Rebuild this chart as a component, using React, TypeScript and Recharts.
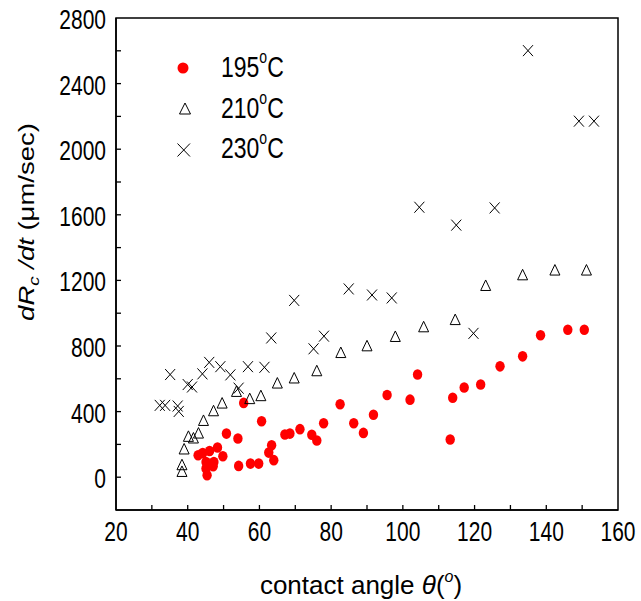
import React from 'react';
import { ScatterChart, Scatter, XAxis, YAxis, ReferenceArea, Legend } from 'recharts';

// dR/dt vs contact angle
const red195 = [
  { x: 42.9, y: 134 }, { x: 44.2, y: 148 }, { x: 46.1, y: 160 }, { x: 48.3, y: 181 },
  { x: 49.8, y: 128 }, { x: 45.1, y: 93 }, { x: 47.3, y: 93 }, { x: 47.1, y: 67 },
  { x: 45.1, y: 53 }, { x: 45.4, y: 12 }, { x: 50.8, y: 266 }, { x: 54.0, y: 236 },
  { x: 54.2, y: 69 }, { x: 57.5, y: 83 }, { x: 59.8, y: 83 }, { x: 55.6, y: 453 },
  { x: 60.6, y: 341 }, { x: 63.4, y: 195 }, { x: 62.6, y: 150 }, { x: 64.0, y: 104 },
  { x: 67.1, y: 260 }, { x: 68.5, y: 266 }, { x: 71.3, y: 293 }, { x: 74.6, y: 259 },
  { x: 76.0, y: 224 }, { x: 77.9, y: 329 }, { x: 82.5, y: 445 }, { x: 86.3, y: 329 },
  { x: 89.0, y: 270 }, { x: 91.8, y: 381 }, { x: 95.6, y: 501 }, { x: 102.0, y: 473 },
  { x: 104.1, y: 626 }, { x: 113.2, y: 230 }, { x: 113.9, y: 484 }, { x: 117.1, y: 547 },
  { x: 121.7, y: 565 }, { x: 127.1, y: 676 }, { x: 133.4, y: 737 }, { x: 138.4, y: 866 },
  { x: 146.0, y: 899 }, { x: 150.6, y: 899 },
];

const tri210 = [
  { x: 38.4, y: 32 }, { x: 38.4, y: 73 }, { x: 39.0, y: 169 }, { x: 40.2, y: 246 },
  { x: 41.6, y: 236 }, { x: 43.0, y: 266 }, { x: 44.4, y: 343 }, { x: 47.2, y: 402 },
  { x: 49.6, y: 449 }, { x: 53.6, y: 520 }, { x: 57.3, y: 476 }, { x: 60.4, y: 494 },
  { x: 65.0, y: 571 }, { x: 69.7, y: 602 }, { x: 76.0, y: 646 }, { x: 82.7, y: 757 },
  { x: 90.0, y: 798 }, { x: 97.9, y: 855 }, { x: 105.8, y: 914 }, { x: 114.6, y: 958 },
  { x: 123.1, y: 1166 }, { x: 133.4, y: 1231 }, { x: 142.4, y: 1260 }, { x: 151.2, y: 1260 },
];

const cross230 = [
  { x: 32.2, y: 438 }, { x: 33.7, y: 438 }, { x: 37.2, y: 434 }, { x: 37.5, y: 401 },
  { x: 35.1, y: 626 }, { x: 40.0, y: 565 }, { x: 41.2, y: 550 }, { x: 44.1, y: 630 },
  { x: 46.0, y: 700 }, { x: 49.1, y: 674 }, { x: 51.9, y: 624 }, { x: 54.2, y: 543 },
  { x: 56.8, y: 674 }, { x: 61.4, y: 670 }, { x: 63.3, y: 849 }, { x: 69.7, y: 1078 },
  { x: 75.1, y: 783 }, { x: 78.0, y: 860 }, { x: 84.9, y: 1148 }, { x: 91.4, y: 1111 },
  { x: 96.9, y: 1093 }, { x: 104.6, y: 1646 }, { x: 114.9, y: 1537 }, { x: 119.7, y: 877 },
  { x: 125.6, y: 1642 }, { x: 134.9, y: 2601 }, { x: 149.1, y: 2171 }, { x: 153.3, y: 2171 },
];

const seriesNames = ['195', '210', '230'];
const xTicks = [20, 30, 40, 50, 60, 70, 80, 90, 100, 110, 120, 130, 140, 150, 160];
const yTicks = [-200, 0, 200, 400, 600, 800, 1000, 1200, 1400, 1600, 1800, 2000, 2200, 2400, 2600, 2800];

const FONT = '"Liberation Sans", Arial, sans-serif';

// the original uses a narrow face for numbers; fake it with a vertical stretch
const TallText = ({ x, y, sy = 1.35, children, ...rest }: any) => (
  <g transform={`translate(${x},${y}) scale(1,${sy})`}>
    <text x={0} y={0} fontFamily={FONT} fill="#000" {...rest}>{children}</text>
  </g>
);

const Dot = (p: any) => <ellipse cx={p.cx} cy={p.cy} rx={4.7} ry={5.3} fill="#ff0000" />;
const Tri = (p: any) => (
  <path d={`M${p.cx},${p.cy - 6} L${p.cx - 5},${p.cy + 4.5} L${p.cx + 5},${p.cy + 4.5} Z`}
    fill="none" stroke="#000" strokeWidth={1} />
);
const Cross = (p: any) => (
  <path d={`M${p.cx - 5},${p.cy - 5.5} L${p.cx + 5},${p.cy + 5.5} M${p.cx - 5},${p.cy + 5.5} L${p.cx + 5},${p.cy - 5.5}`}
    stroke="#000" strokeWidth={1} fill="none" />
);

// ticks point inward, like the Origin plot
const XTick = (props: any) => {
  const { x, y, payload } = props;
  const v = payload.value;
  const ay = y - 6;
  return (
    <g>
      {v > 20 && v < 160 && <line x1={x} x2={x} y1={ay} y2={ay - 5} stroke="#000" strokeWidth={1.3} />}
      {v % 20 === 0 && (
        <TallText x={x} y={ay + 31} textAnchor="middle" fontSize={21}>{v}</TallText>
      )}
    </g>
  );
};

const YTick = (props: any) => {
  const { x, y, payload } = props;
  const v = payload.value;
  const ax = x + 6;
  return (
    <g>
      {v > -200 && v < 2800 && <line x1={ax} x2={ax + 5} y1={y} y2={y} stroke="#000" strokeWidth={1.3} />}
      {v >= 0 && v % 400 === 0 && (
        <TallText x={ax - 10} y={y + 11} textAnchor="end" fontSize={21}>{v}</TallText>
      )}
    </g>
  );
};

const YTitle = () => (
  <g transform="translate(34,222) scale(1,1.25) rotate(-90)">
    <text x={0} y={0} textAnchor="middle" fontSize={22} fontFamily={FONT} fill="#000">
      <tspan fontStyle="italic">dR</tspan>
      <tspan fontStyle="italic" fontSize={15} dy={5}>c</tspan>
      <tspan fontStyle="italic" dy={-5}> /dt</tspan>
      <tspan> (μm/sec)</tspan>
    </text>
  </g>
);

const XTitle = () => (
  <text x={361} y={594} textAnchor="middle" fontSize={26} fontFamily={FONT} fill="#000">
    <tspan>contact angle </tspan>
    <tspan fontStyle="italic">θ</tspan>
    <tspan>(</tspan>
    <tspan fontSize={16} fontStyle="italic" dy={-12}>o</tspan>
    <tspan dy={12}>)</tspan>
  </text>
);

const LegendBox = () => {
  const rows = [68, 109, 150];
  const base = [77, 118, 158];
  return (
    <svg width={180} height={130} style={{ overflow: 'visible' }}>
      <g transform="translate(-160,-40)">
        <circle cx={183} cy={rows[0]} r={5.5} fill="#ff0000" />
        <path d={`M185,${rows[1] - 6} L179.5,${rows[1] + 5} L190.5,${rows[1] + 5} Z`} fill="none" stroke="#000" strokeWidth={1} />
        <path d={`M177.5,${rows[2] - 6.5} L190,${rows[2] + 6.5} M177.5,${rows[2] + 6.5} L190,${rows[2] - 6.5}`} stroke="#000" strokeWidth={1} />
        {seriesNames.map((n, i) => (
          <TallText key={n} x={221} y={base[i]} sy={1.25} fontSize={23}>
            {n}
            <tspan fontSize={14} dy={-11}>o</tspan>
            <tspan dy={11}>C</tspan>
          </TallText>
        ))}
      </g>
    </svg>
  );
};

export default function App() {
  return (
    <div style={{ position: 'absolute', left: 0, top: 0, width: 641, height: 601, background: '#fff' }}>
      <ScatterChart width={641} height={601} margin={{ top: 18, right: 23, bottom: 61, left: 0 }}>
        <XAxis type="number" dataKey="x" domain={[20, 160]} ticks={xTicks} allowDataOverflow
          height={30} tickSize={6} tickMargin={0} tickLine={false}
          axisLine={{ stroke: '#000', strokeWidth: 1.5 }} tick={(p: any) => <XTick {...p} />}
          label={<XTitle />} />
        <YAxis type="number" dataKey="y" domain={[-200, 2800]} ticks={yTicks} allowDataOverflow
          width={116} tickSize={6} tickMargin={0} tickLine={false}
          axisLine={{ stroke: '#000', strokeWidth: 1.5 }} tick={(p: any) => <YTick {...p} />}
          label={<YTitle />} />
        <ReferenceArea x1={20} x2={160} y1={-200} y2={2800} fill="none" fillOpacity={0} stroke="#000" strokeWidth={1.5} />
        <Legend layout="vertical" align="center" verticalAlign="middle"
          wrapperStyle={{ left: 160, top: 40, width: 180, height: 130 }} content={() => <LegendBox />} />
        <Scatter name="195°C" data={red195} shape={Dot} isAnimationActive={false} />
        <Scatter name="210°C" data={tri210} shape={Tri} isAnimationActive={false} />
        <Scatter name="230°C" data={cross230} shape={Cross} isAnimationActive={false} />
      </ScatterChart>
    </div>
  );
}
